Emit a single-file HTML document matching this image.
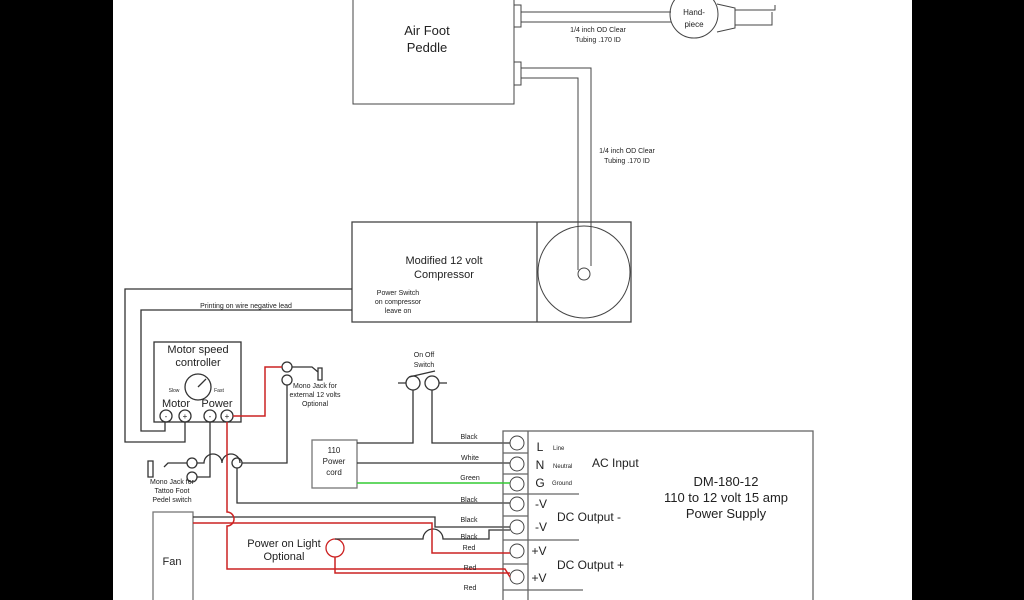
<!DOCTYPE html>
<html><head><style>
html,body{margin:0;padding:0;background:#000;}
svg{display:block;}
text{font-family:"Liberation Sans",sans-serif;fill:#222;}
</style></head><body>
<svg width="1024" height="600" viewBox="0 0 1024 600" xmlns="http://www.w3.org/2000/svg">
<rect x="0" y="0" width="1024" height="600" fill="#000"/>
<rect x="113" y="0" width="799" height="600" fill="#fff"/>
<g fill="none" stroke="#444" stroke-width="1">
<rect x="353" y="-2" width="161" height="106"/>
<rect x="514" y="5" width="7" height="22"/>
<rect x="514" y="62" width="7" height="23"/>
<path d="M521 12 H671 M521 22 H671"/>
<path d="M521 68 H591 V266 M521 78 H578 V270"/>
<circle cx="694" cy="14" r="24"/>
<path d="M717 4 L735 8 V28 L717 32 M735 10 H775 V5 M735 25 H772 V12"/>
<rect x="352" y="222" width="279" height="100" stroke-width="1.3"/>
<path d="M537 222 V322" stroke-width="1.3"/>
<circle cx="584" cy="272" r="46"/>
<circle cx="584" cy="274" r="6"/>
</g>
<g fill="none" stroke="#333" stroke-width="1.3">
<path d="M352 289 H125 V442 H185 V422"/>
<path d="M352 310 H141 V431 H165 V422"/>
<rect x="154" y="342" width="87" height="80"/>
<circle cx="198" cy="387" r="13"/>
<path d="M198 387 L206 379"/>
<circle cx="166" cy="416" r="6"/><circle cx="185" cy="416" r="6"/>
<circle cx="210" cy="416" r="6"/><circle cx="227" cy="416" r="6"/>
<circle cx="287" cy="367" r="5"/><circle cx="287" cy="380" r="5"/>
<path d="M292 367 H312 L318 372 M318 368 H322 V380 H318 Z"/>
<circle cx="192" cy="463" r="5"/><circle cx="192" cy="477" r="5"/>
<path d="M187 463 H168 L164 467 M148 461 H153 V477 H148 Z"/>
<path d="M210 422 V477 H197"/>
<path d="M197 463 H204 A9 9 0 0 1 222 463 A9 9 0 0 1 240 463"/>
<circle cx="237" cy="463" r="5"/>
<path d="M242 463 H287 V385"/>
<path d="M237 468 V503 H510"/>
<rect x="312" y="440" width="45" height="48" stroke="#777"/>
<path d="M357 443 H413 V390"/>
<path d="M432 390 V443 H510"/>
<path d="M357 463 H510"/>
<circle cx="413" cy="383" r="7"/><circle cx="432" cy="383" r="7"/>
<path d="M398 383 H406 M439 383 H447 M409 377 L435 371"/>
<rect x="153" y="512" width="40" height="95" stroke="#777"/>
<path d="M193 517 H435 V527 H510"/>
<circle cx="335" cy="548" r="9" stroke="#c22"/>
<path d="M335 539 H423 A10 10 0 0 1 443 539 H489 V530 H510"/>
<rect x="503" y="431" width="310" height="180" stroke="#666"/>
<path d="M528 431 V600 M503 453 H528 M503 474 H528 M503 494 H579 M503 516 H528 M503 540 H579 M503 564 H528 M503 590 H583" stroke="#666"/>
</g>
<g fill="#fff" stroke="#444" stroke-width="1">
<circle cx="517" cy="443" r="7"/><circle cx="517" cy="464" r="7"/><circle cx="517" cy="484" r="7"/>
<circle cx="517" cy="504" r="7"/><circle cx="517" cy="527" r="7"/><circle cx="517" cy="551" r="7"/><circle cx="517" cy="577" r="7"/>
</g>
<path d="M357 483 H510" stroke="#3c3" stroke-width="1.5" fill="none"/>
<g fill="none" stroke="#c22" stroke-width="1.5">
<path d="M233 416 H265 V367 H282"/>
<path d="M227 422 V512 A7 7 0 0 1 227 526 V569 H505 L510 577"/>
<path d="M193 523 H432 V553 H510"/>
<path d="M335 557 V573 H510"/>
</g>
<g font-size="13" text-anchor="middle">
<text x="427" y="35">Air Foot</text><text x="427" y="52">Peddle</text>
</g>
<g font-size="11" text-anchor="middle">
<text x="444" y="264">Modified 12 volt</text><text x="444" y="278">Compressor</text>
<text x="198" y="353">Motor speed</text><text x="198" y="366">controller</text>
<text x="176" y="407">Motor</text><text x="217" y="407">Power</text>
<text x="284" y="547">Power on Light</text><text x="284" y="560">Optional</text>
<text x="172" y="565">Fan</text>
<text x="540" y="451" font-size="12">L</text>
<text x="540" y="469" font-size="12">N</text>
<text x="540" y="487" font-size="12">G</text>
<text x="541" y="508" font-size="12">-V</text>
<text x="541" y="531" font-size="12">-V</text>
<text x="539" y="555" font-size="12">+V</text>
<text x="539" y="582" font-size="12">+V</text>
</g>
<g font-size="12">
<text x="592" y="467">AC Input</text>
<text x="557" y="521">DC Output -</text>
<text x="557" y="569">DC Output +</text>
</g>
<g font-size="13" text-anchor="middle">
<text x="726" y="486">DM-180-12</text>
<text x="726" y="502">110 to 12 volt 15 amp</text>
<text x="726" y="518">Power Supply</text>
</g>
<g font-size="8" text-anchor="middle">
<text x="334" y="453">110</text><text x="334" y="464">Power</text><text x="334" y="475">cord</text>
</g>
<g font-size="7" text-anchor="middle">
<text x="598" y="32">1/4 inch OD Clear</text><text x="598" y="42">Tubing .170 ID</text>
<text x="627" y="153">1/4 inch OD Clear</text><text x="627" y="163">Tubing .170 ID</text>
<text x="694" y="15" font-size="8">Hand-</text><text x="694" y="27" font-size="8">piece</text>
<text x="398" y="295">Power Switch</text><text x="398" y="304">on compressor</text><text x="398" y="313">leave on</text>
<text x="246" y="308">Printing on wire negative lead</text>
<text x="174" y="392" font-size="5">Slow</text><text x="219" y="392" font-size="5">Fast</text>
<text x="315" y="388">Mono Jack for</text><text x="315" y="397">external 12 volts</text><text x="315" y="406">Optional</text>
<text x="172" y="484">Mono Jack for</text><text x="172" y="493">Tattoo Foot</text><text x="172" y="502">Pedel switch</text>
<text x="424" y="357">On Off</text><text x="424" y="367">Switch</text>
<text x="469" y="439">Black</text><text x="470" y="460">White</text><text x="470" y="480">Green</text>
<text x="469" y="502">Black</text><text x="469" y="522">Black</text><text x="469" y="539">Black</text>
<text x="469" y="550">Red</text><text x="470" y="570">Red</text><text x="470" y="590">Red</text>
<text x="553" y="450" text-anchor="start" font-size="6">Line</text>
<text x="553" y="468" text-anchor="start" font-size="6">Neutral</text>
<text x="552" y="485" text-anchor="start" font-size="6">Ground</text>
<text x="166" y="419" font-size="8">-</text><text x="185" y="419" font-size="8">+</text>
<text x="210" y="419" font-size="8">-</text><text x="227" y="419" font-size="8">+</text>
</g>
</svg>
</body></html>
